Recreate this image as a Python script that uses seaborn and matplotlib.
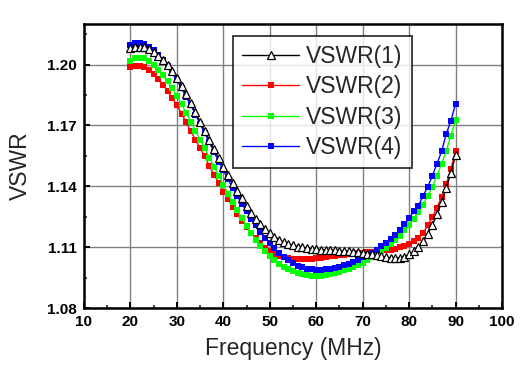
import numpy as np
import pandas as pd
import matplotlib
matplotlib.use('Agg')
import matplotlib.pyplot as plt
import seaborn as sns
from matplotlib.ticker import MultipleLocator

# frequency points (MHz), one per 1 MHz
freq = list(range(20, 91))

vswr1 = [1.2082, 1.2087, 1.2089, 1.2085, 1.2076, 1.2062, 1.2044, 1.2022, 1.1997, 1.1967,
         1.1933, 1.1895, 1.1853, 1.1810, 1.1765, 1.1719, 1.1672, 1.1627, 1.1583, 1.1539,
         1.1497, 1.1455, 1.1415, 1.1377, 1.1340, 1.1304, 1.1270, 1.1239, 1.1212, 1.1189,
         1.1168, 1.1151, 1.1137, 1.1125, 1.1116, 1.1109, 1.1103, 1.1099, 1.1095, 1.1092,
         1.1090, 1.1088, 1.1087, 1.1085, 1.1084, 1.1083, 1.1081, 1.1079, 1.1077, 1.1075,
         1.1072, 1.1068, 1.1064, 1.1059, 1.1054, 1.1050, 1.1048, 1.1047, 1.1048, 1.1053,
         1.1064, 1.1080, 1.1101, 1.1128, 1.1163, 1.1208, 1.1262, 1.1323, 1.1393, 1.1465,
         1.1555]

vswr2 = [1.1987, 1.1993, 1.1993, 1.1987, 1.1975, 1.1955, 1.1930, 1.1901, 1.1869, 1.1833,
         1.1800, 1.1758, 1.1715, 1.1671, 1.1630, 1.1589, 1.1547, 1.1500, 1.1458, 1.1414,
         1.1374, 1.1336, 1.1299, 1.1263, 1.1230, 1.1200, 1.1171, 1.1145, 1.1120, 1.1098,
         1.1080, 1.1066, 1.1056, 1.1049, 1.1045, 1.1043, 1.1042, 1.1042, 1.1043, 1.1044,
         1.1046, 1.1048, 1.1051, 1.1054, 1.1057, 1.1060, 1.1063, 1.1066, 1.1068, 1.1070,
         1.1072, 1.1074, 1.1076, 1.1078, 1.1081, 1.1084, 1.1088, 1.1093, 1.1100, 1.1108,
         1.1117, 1.1129, 1.1146, 1.1170, 1.1207, 1.1248, 1.1294, 1.1349, 1.1410, 1.1485,
         1.1572]

vswr3 = [1.2020, 1.2030, 1.2033, 1.2030, 1.2018, 1.2000, 1.1975, 1.1948, 1.1917, 1.1883,
         1.1845, 1.1805, 1.1762, 1.1719, 1.1675, 1.1630, 1.1587, 1.1540, 1.1497, 1.1452,
         1.1408, 1.1364, 1.1323, 1.1282, 1.1242, 1.1204, 1.1168, 1.1135, 1.1105, 1.1079,
         1.1056, 1.1035, 1.1017, 1.1002, 1.0990, 1.0980, 1.0972, 1.0966, 1.0962, 1.0960,
         1.0959, 1.0960, 1.0963, 1.0967, 1.0973, 1.0979, 1.0986, 1.0994, 1.1003, 1.1013,
         1.1024, 1.1036, 1.1049, 1.1063, 1.1079, 1.1095, 1.1114, 1.1135, 1.1157, 1.1183,
         1.1211, 1.1240, 1.1272, 1.1308, 1.1352, 1.1398, 1.1452, 1.1510, 1.1575, 1.1648,
         1.1727]

vswr4 = [1.2095, 1.2104, 1.2106, 1.2099, 1.2089, 1.2073, 1.2049, 1.2024, 1.1991, 1.1958,
         1.1924, 1.1884, 1.1840, 1.1800, 1.1753, 1.1708, 1.1662, 1.1616, 1.1569, 1.1522,
         1.1479, 1.1435, 1.1393, 1.1352, 1.1314, 1.1277, 1.1241, 1.1207, 1.1176, 1.1147,
         1.1120, 1.1095, 1.1073, 1.1053, 1.1036, 1.1021, 1.1009, 1.1000, 1.0994, 1.0990,
         1.0989, 1.0989, 1.0990, 1.0993, 1.0998, 1.1004, 1.1011, 1.1019, 1.1028, 1.1038,
         1.1049, 1.1060, 1.1072, 1.1087, 1.1105, 1.1120, 1.1138, 1.1160, 1.1184, 1.1212,
         1.1242, 1.1276, 1.1304, 1.1353, 1.1396, 1.1452, 1.1511, 1.1572, 1.1658, 1.1723,
         1.1807]

labels = ['VSWR(1)', 'VSWR(2)', 'VSWR(3)', 'VSWR(4)']
colors = ['#000000', '#ff0000', '#00ff00', '#0000ff']

df = pd.DataFrame({'freq': freq, labels[0]: vswr1, labels[1]: vswr2,
                   labels[2]: vswr3, labels[3]: vswr4})

sns.set_style('white')
plt.rcParams['font.family'] = ['Liberation Sans', 'DejaVu Sans']

fig = plt.figure(figsize=(5.22, 3.69), dpi=100)
ax = fig.add_axes([84 / 522, 61 / 369, 418 / 522, 284 / 369])

# draw coloured series first, black triangles on top
order = [1, 2, 3, 0]
for i in order:
    if i == 0:
        sns.lineplot(data=df, x='freq', y=labels[i], ax=ax, color=colors[i], lw=1.0,
                     marker='^', markersize=5.2, markerfacecolor='white',
                     markeredgecolor='black', markeredgewidth=0.9, label=labels[i],
                     zorder=5)
    else:
        sns.lineplot(data=df, x='freq', y=labels[i], ax=ax, color=colors[i], lw=1.0,
                     marker='s', markersize=4.7, markeredgewidth=0,
                     label=labels[i], zorder=3 + i * 0.1)

ax.set_xlim(10, 100)
ax.set_ylim(1.08, 1.22)
ax.xaxis.set_major_locator(MultipleLocator(10))
ax.xaxis.set_minor_locator(MultipleLocator(5))
ax.set_yticks([1.08, 1.11, 1.14, 1.17, 1.20])
ax.yaxis.set_minor_locator(MultipleLocator(0.015))
ax.set_yticklabels(['1.08', '1.11', '1.14', '1.17', '1.20'])

ax.grid(True, which='major', color='#808080', lw=1.0)
ax.set_axisbelow(True)
for s in ax.spines.values():
    s.set_color('black')
    s.set_linewidth(1.8)

ax.tick_params(axis='both', which='major', direction='in', length=4.5, width=1.4,
               labelsize=11, pad=5, top=False, right=False, bottom=True, left=True,
               colors='black')
ax.tick_params(axis='both', which='minor', direction='in', length=2.2, width=1.2,
               top=False, right=False, bottom=True, left=True)
for t in ax.get_xticklabels() + ax.get_yticklabels():
    t.set_fontweight('bold')

ax.set_xlabel('Frequency (MHz)', fontsize=16.5, labelpad=6)
ax.set_ylabel('VSWR', fontsize=16.5, labelpad=11)

handles, lbls = ax.get_legend_handles_labels()
pos = {l: h for h, l in zip(handles, lbls)}
leg = ax.legend([pos[l] for l in labels], labels, loc='upper left',
                bbox_to_anchor=(0.356, 0.958), fontsize=16.5, frameon=True,
                fancybox=False, edgecolor='black', handlelength=2.5,
                handletextpad=0.3, labelspacing=0.32, borderpad=0.4,
                borderaxespad=0)
leg.get_frame().set_linewidth(1.3)
leg.set_zorder(10)

fig.savefig('out.png', dpi=100)
